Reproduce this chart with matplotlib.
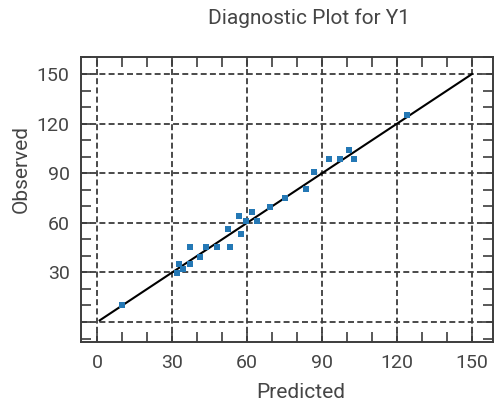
import matplotlib
matplotlib.use('Agg')
import matplotlib.pyplot as plt
from matplotlib.ticker import MultipleLocator

plt.rcParams['font.family'] = ['Roboto', 'DejaVu Sans']
plt.rcParams['font.weight'] = 'normal'

# observed vs predicted values
predicted = [10, 31.8, 32.8, 34.5, 37.1, 37.1, 41.2, 43.4, 47.8, 52.3, 53.1,
             56.7, 57.5, 59.4, 62, 63.8, 69, 75.1, 83.4, 86.8, 92.9, 97.2,
             100.8, 102.8, 124]
observed = [10, 29.8, 34.9, 32, 35, 45.5, 39.5, 45.5, 45.5, 56, 45.5,
            64, 53, 61.3, 66.7, 61.3, 69.5, 74.8, 80.3, 90.9, 98.9, 98.9,
            104, 98.9, 125.5]

# reference line y = x
ref_x = [1, 150]
ref_y = [1, 150]

xticks = [0, 30, 60, 90, 120, 150]
xticklabels = ['0', '30', '60', '90', '120', '150']
yticks = [0, 30, 60, 90, 120, 150]
yticklabels = ['', '30', '60', '90', '120', '150']

txt = '#454545'
dark = '#3c3c3c'

fig = plt.figure(figsize=(4.94, 4.05), dpi=100)
ax = fig.add_axes([80.7 / 494, 1 - 341.7 / 405, (493 - 80.7) / 494, (341.7 - 57) / 405])

ax.plot(ref_x, ref_y, color='black', lw=1.5, zorder=3)
ax.plot(predicted, observed, 's', color='#2478b5', markersize=3.8,
        markeredgewidth=0, zorder=4)

ax.set_xlim(-6.6, 158.4)
ax.set_ylim(-11.9, 160.3)

ax.set_xticks(xticks)
ax.set_xticklabels(xticklabels)
ax.set_yticks(yticks)
ax.set_yticklabels(yticklabels)
ax.xaxis.set_minor_locator(MultipleLocator(10))
ax.yaxis.set_minor_locator(MultipleLocator(10))

ax.grid(True, which='major', color=dark, lw=1.3, linestyle=(0, (3.3, 1.8)))
ax.tick_params(which='both', direction='in', top=True, right=True,
               length=7, width=1.2, color=dark)
ax.tick_params(axis='both', which='major', labelsize=14, labelcolor=txt)
ax.tick_params(axis='x', which='major', pad=9)
ax.tick_params(axis='y', which='major', pad=8)
for s in ax.spines.values():
    s.set_color(dark)
    s.set_linewidth(1.4)

fig.text(309 / 494, 1 - 23.5 / 405, 'Diagnostic Plot for Y1', fontsize=15,
         color=txt, ha='center', va='baseline')
fig.text(301 / 494, 1 - 398 / 405, 'Predicted', fontsize=15,
         color=txt, ha='center', va='baseline')
fig.text(21 / 494, 1 - 169 / 405, 'Observed', fontsize=15, rotation=90,
         color=txt, ha='center', va='center')

fig.savefig('out.png', dpi=100)
